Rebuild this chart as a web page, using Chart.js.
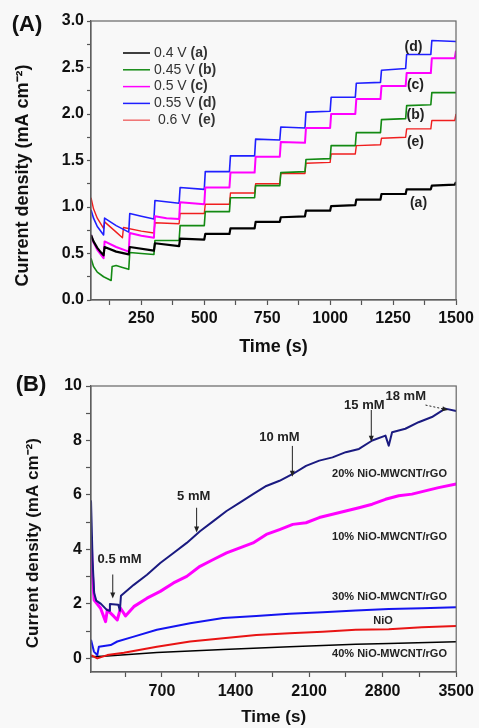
<!DOCTYPE html>
<html>
<head>
<meta charset="utf-8">
<script src="https://cdn.jsdelivr.net/npm/chart.js@4.4.1/dist/chart.umd.min.js"></script>
<style>
  body { margin: 0; background: #f8f8f8; }
  .panel { position: absolute; left: 0; width: 479px; }
  #wrapA { top: 0; height: 360px; }
  #wrapB { top: 360px; height: 368px; }
</style>
</head>
<body>
<div class="panel" id="wrapA"><canvas id="chartA"></canvas></div>
<div class="panel" id="wrapB"><canvas id="chartB"></canvas></div>
<script>
const FONT = "'Liberation Sans', Arial, sans-serif";

// ---- (A) 不同电位下的阶跃响应 [时间 s, 电流密度 mA cm-2]
const voltagesA = ['0.4 V', '0.45 V', '0.5 V', '0.55 V', ' 0.6 V '];
const tagsA = ['(a)', '(b)', '(c)', '(d)', '(e)'];
const curveA_a = [[50,0.70],[60,0.63],[75,0.56],[90,0.51],[100,0.48],[104,0.57],[150,0.52],[200,0.49],[204,0.57],[300,0.53],
  [304,0.61],[400,0.58],[404,0.66],[500,0.65],[504,0.71],[600,0.71],[604,0.77],[700,0.77],[704,0.84],[800,0.84],
  [804,0.89],[900,0.90],[904,0.96],[1000,0.96],[1004,1.01],[1100,1.02],[1104,1.08],[1200,1.08],[1204,1.14],[1300,1.14],
  [1304,1.19],[1400,1.19],[1404,1.23],[1495,1.24],[1500,1.27]];
const curveA_b = [[50,0.45],[60,0.36],[75,0.30],[100,0.25],[130,0.21],[134,0.36],[150,0.37],[175,0.35],[200,0.33],[204,0.51],
  [250,0.50],[300,0.49],[304,0.64],[400,0.64],[404,0.80],[500,0.80],[504,0.95],[600,0.95],[604,1.10],[700,1.10],
  [704,1.23],[800,1.23],[804,1.37],[900,1.38],[904,1.51],[1000,1.52],[1004,1.66],[1100,1.66],[1104,1.80],[1200,1.80],
  [1204,1.94],[1300,1.95],[1304,2.09],[1400,2.10],[1404,2.23],[1500,2.23]];
const curveA_c = [[50,0.70],[60,0.62],[75,0.54],[100,0.45],[104,0.63],[150,0.57],[200,0.52],[204,0.72],[250,0.69],[300,0.67],
  [304,0.90],[350,0.88],[400,0.87],[404,1.05],[500,1.03],[504,1.21],[600,1.21],[604,1.37],[700,1.37],[704,1.54],
  [800,1.54],[804,1.70],[900,1.69],[904,1.85],[1000,1.85],[1004,2.00],[1100,2.00],[1104,2.16],[1200,2.16],[1204,2.30],
  [1300,2.30],[1304,2.44],[1400,2.44],[1404,2.60],[1495,2.60],[1500,2.68]];
const curveA_d = [[50,0.97],[60,0.88],[75,0.79],[100,0.70],[104,0.88],[150,0.80],[200,0.73],[204,0.93],[250,0.90],[300,0.87],
  [304,1.07],[400,1.04],[404,1.21],[500,1.19],[504,1.38],[600,1.38],[604,1.55],[700,1.55],[704,1.73],[800,1.72],
  [804,1.86],[900,1.85],[904,2.02],[1000,2.03],[1004,2.18],[1100,2.18],[1104,2.33],[1200,2.34],[1204,2.47],[1300,2.49],
  [1304,2.64],[1400,2.64],[1404,2.79],[1500,2.78]];
const curveA_e = [[50,1.10],[60,0.98],[75,0.88],[100,0.77],[104,0.84],[150,0.73],[175,0.67],[179,0.78],[250,0.74],[300,0.72],
  [304,0.83],[400,0.82],[404,0.93],[500,0.93],[504,1.03],[600,1.03],[604,1.15],[700,1.15],[704,1.25],[800,1.25],
  [804,1.36],[900,1.36],[904,1.47],[1000,1.48],[1004,1.57],[1100,1.57],[1104,1.66],[1200,1.67],[1204,1.74],[1300,1.75],
  [1304,1.84],[1400,1.84],[1404,1.93],[1495,1.93],[1500,2.00]];
const tagPosA = [[1351,1.04],[1339,1.99],[1339,2.31],[1331,2.72],[1339,1.70]];
const xTicksA = [125,250,375,500,625,750,875,1000,1125,1250,1375,1500];
const xLabelsA = [250,500,750,1000,1250,1500];
const yTicksA = [0,0.25,0.5,0.75,1,1.25,1.5,1.75,2,2.25,2.5,2.75,3];
const yLabelsA = [0,0.5,1,1.5,2,2.5,3];

// ---- (B) 不同复合比例的电流响应
const namesB = ['20% NiO-MWCNT/rGO', '10% NiO-MWCNT/rGO', '30% NiO-MWCNT/rGO', 'NiO', '40% NiO-MWCNT/rGO'];
const curveB_20 = [[25,5.8],[40,3.6],[55,2.4],[75,2.12],[120,2.0],[175,1.78],[200,1.75],[205,2.0],[285,1.97],[300,1.75],
  [310,2.3],[432,2.7],[558,3.07],[684,3.5],[810,3.87],[936,4.24],[1062,4.67],[1189,5.04],[1315,5.41],[1441,5.72],
  [1567,6.03],[1693,6.33],[1819,6.52],[1945,6.77],[2071,7.07],[2197,7.26],[2323,7.38],[2449,7.57],[2575,7.69],[2701,8.0],
  [2827,8.18],[2858,7.81],[2890,8.3],[3016,8.43],[3142,8.67],[3269,8.86],[3395,9.17],[3500,9.08]];
const curveB_10 = [[25,4.5],[40,3.0],[55,2.14],[116,1.84],[164,1.35],[180,1.78],[243,1.54],[275,1.41],[306,1.84],[353,1.56],
  [432,1.9],[558,2.21],[684,2.46],[810,2.77],[936,3.01],[1062,3.38],[1189,3.63],[1315,3.87],[1441,4.06],[1567,4.24],
  [1693,4.55],[1819,4.73],[1945,4.92],[2071,4.98],[2197,5.17],[2323,5.29],[2449,5.41],[2575,5.53],[2701,5.66],[2827,5.84],
  [2953,5.97],[3079,6.03],[3205,6.15],[3332,6.27],[3500,6.4]];
const curveB_30 = [[25,0.68],[53,0.25],[85,0.12],[100,0.43],[212,0.49],[275,0.62],[432,0.8],[652,1.05],[968,1.29],[1283,1.48],
  [1598,1.56],[1914,1.64],[2229,1.69],[2544,1.76],[2858,1.81],[3174,1.84],[3500,1.88]];
const curveB_NiO = [[25,0.12],[85,0.0],[180,0.12],[338,0.21],[652,0.43],[968,0.62],[1283,0.74],[1598,0.86],[1914,0.92],[2229,0.98],
  [2544,1.05],[2858,1.07],[3174,1.14],[3500,1.19]];
const curveB_40 = [[25,0.06],[180,0.09],[652,0.22],[1283,0.33],[1914,0.43],[2544,0.52],[2858,0.55],[3500,0.61]];
const namePosB = [[3412,6.78],[3412,4.47],[3412,2.27],[2804,1.39],[3412,0.18]];
const notesB = [['0.5 mM',297,3.63],['5 mM',1002,5.93],['10 mM',1818,8.13],['15 mM',2626,9.3],['18 mM',3020,9.63]];
const arrowsB = [[232,3.08,232,2.2],[1030,5.53,1030,4.62],[1941,7.8,1941,6.67],[2692,9.12,2692,7.95]];
const dashArrowB = [3208,9.3,3424,9.12];
const xTicksB = [350,700,1050,1400,1750,2100,2450,2800,3150,3500];
const xLabelsB = [700,1400,2100,2800,3500];
const yTicksB = [0,1,2,3,4,5,6,7,8,9,10];
const yLabelsB = [0,2,4,6,8,10];

const toXY = pts => pts.map(([x, y]) => ({x, y}));

function line(pts, color, width) {
  return { data: toXY(pts), borderColor: color, borderWidth: width, pointRadius: 0, tension: 0, borderJoinStyle: 'round' };
}

function axis(min, max, ticks, labels, titleText, opts) {
  return {
    type: 'linear', min, max,
    afterBuildTicks: s => { s.ticks = ticks.map(v => ({value: v})); },
    afterFit: s => { if (opts.width) s.width = opts.width; if (opts.height) s.height = opts.height; },
    ticks: {
      autoSkip: false, maxRotation: 0, padding: opts.pad, color: '#111',
      font: {family: FONT, size: opts.tickSize, weight: 'bold'},
      callback: v => labels.includes(v) ? String(v === 0 ? (opts.zero || '0') : (opts.fix ? v.toFixed(1) : v)) : ''
    },
    grid: { drawOnChartArea: false, drawTicks: true, tickLength: opts.tickLen, tickColor: '#555', tickWidth: 1.2 },
    border: { display: true, color: '#555', width: 1.2 },
    title: { display: true, text: titleText, color: '#111', font: {family: FONT, size: opts.titleSize, weight: 'bold'}, padding: opts.titlePad }
  };
}

const decor = {
  id: 'decor',
  afterDraw(chart, args, o) {
    const ctx = chart.ctx, a = chart.chartArea;
    ctx.save();
    ctx.strokeStyle = '#666';
    ctx.lineWidth = 1.2;
    ctx.strokeRect(a.left, a.top, a.right - a.left, a.bottom - a.top);
    ctx.fillStyle = '#111';
    ctx.font = 'bold 22px ' + FONT;
    ctx.textAlign = 'center';
    ctx.textBaseline = 'middle';
    ctx.fillText(o.letter, o.letterX, o.letterY);
    o.draw(chart, ctx);
    ctx.restore();
  }
};

function drawA(chart, ctx) {
  const xs = chart.scales.x, ys = chart.scales.y;
  // 图例
  const colors = chart.data.datasets.map(d => d.borderColor);
  colors[4] = '#f07070';
  voltagesA.forEach((v, i) => {
    const y = 53 + i * 16.8;
    ctx.strokeStyle = colors[i];
    ctx.lineWidth = 1.5;
    ctx.beginPath(); ctx.moveTo(123, y); ctx.lineTo(150, y); ctx.stroke();
    ctx.textAlign = 'left';
    ctx.fillStyle = '#333';
    ctx.font = '14px ' + FONT;
    ctx.fillText(v + ' ', 154, y);
    const w = ctx.measureText(v + ' ').width;
    ctx.font = 'bold 14px ' + FONT;
    ctx.fillText(tagsA[i], 154 + w, y);
  });
  // 曲线标记
  ctx.textAlign = 'center';
  ctx.fillStyle = '#222';
  ctx.font = 'bold 14px ' + FONT;
  tagsA.forEach((t, i) => {
    ctx.fillText(t, xs.getPixelForValue(tagPosA[i][0]), ys.getPixelForValue(tagPosA[i][1]));
  });
}

function arrow(ctx, x0, y0, x1, y1, dashed) {
  const ang = Math.atan2(y1 - y0, x1 - x0);
  ctx.strokeStyle = '#222';
  ctx.fillStyle = '#222';
  ctx.lineWidth = 1;
  ctx.setLineDash(dashed ? [2, 2] : []);
  ctx.beginPath(); ctx.moveTo(x0, y0); ctx.lineTo(x1 - 4 * Math.cos(ang), y1 - 4 * Math.sin(ang)); ctx.stroke();
  ctx.setLineDash([]);
  ctx.beginPath();
  ctx.moveTo(x1, y1);
  ctx.lineTo(x1 - 6 * Math.cos(ang) + 2.5 * Math.sin(ang), y1 - 6 * Math.sin(ang) - 2.5 * Math.cos(ang));
  ctx.lineTo(x1 - 6 * Math.cos(ang) - 2.5 * Math.sin(ang), y1 - 6 * Math.sin(ang) + 2.5 * Math.cos(ang));
  ctx.closePath(); ctx.fill();
}

function drawB(chart, ctx) {
  const xs = chart.scales.x, ys = chart.scales.y;
  const px = v => xs.getPixelForValue(v), py = v => ys.getPixelForValue(v);
  ctx.fillStyle = '#222';
  ctx.font = 'bold 13px ' + FONT;
  ctx.textAlign = 'center';
  notesB.forEach(([t, x, y]) => ctx.fillText(t, px(x), py(y)));
  arrowsB.forEach(([x0, y0, x1, y1]) => arrow(ctx, px(x0), py(y0), px(x1), py(y1), false));
  arrow(ctx, px(dashArrowB[0]), py(dashArrowB[1]), px(dashArrowB[2]), py(dashArrowB[3]), true);
  ctx.font = 'bold 11px ' + FONT;
  ctx.fillStyle = '#222';
  namesB.forEach((n, i) => {
    ctx.textAlign = n === 'NiO' ? 'center' : 'right';
    ctx.fillText(n, px(namePosB[i][0]), py(namePosB[i][1]));
  });
}

Chart.defaults.animation = false;
Chart.defaults.maintainAspectRatio = false;
Chart.defaults.plugins.legend.display = false;
Chart.defaults.plugins.tooltip.enabled = false;

new Chart(document.getElementById('chartA'), {
  type: 'line',
  data: {
    datasets: [
      line(curveA_a, '#000000', 2.2),
      line(curveA_b, '#138a13', 1.6),
      line(curveA_c, '#ff00ff', 2),
      line(curveA_d, '#1f1fff', 1.6),
      line(curveA_e, '#f01e1e', 1.4)
    ]
  },
  options: {
    layout: { padding: { left: 0, right: 23, top: 21, bottom: 0 } },
    scales: {
      x: axis(50, 1500, xTicksA, xLabelsA, 'Time (s)',
        { height: 60, tickLen: 5, pad: 4, tickSize: 16, titleSize: 18, titlePad: {top: 0, bottom: 2} }),
      y: axis(0, 3, yTicksA, yLabelsA, 'Current density (mA cm\u207B\u00B2)      ',
        { width: 91, tickLen: 4, pad: 3, tickSize: 16, titleSize: 18, titlePad: {top: 12, bottom: 0}, fix: true, zero: '0.0' })
    },
    plugins: { decor: { letter: '(A)', letterX: 27, letterY: 25, draw: drawA } }
  },
  plugins: [decor]
});

new Chart(document.getElementById('chartB'), {
  type: 'line',
  data: {
    datasets: [
      line(curveB_20, '#1a1a80', 2),
      line(curveB_10, '#ff00ff', 3),
      line(curveB_30, '#1414f0', 2),
      line(curveB_NiO, '#e81414', 2),
      line(curveB_40, '#000000', 1.5)
    ]
  },
  options: {
    layout: { padding: { left: 0, right: 18, top: 26, bottom: 0 } },
    scales: {
      x: axis(25, 3500, xTicksB, xLabelsB, 'Time (s)',
        { height: 56, tickLen: 5, pad: 5, tickSize: 16, titleSize: 17, titlePad: {top: 0, bottom: 0} }),
      y: axis(-0.5, 10, yTicksB, yLabelsB, 'Current density (mA cm\u207B\u00B2)      ',
        { width: 91, tickLen: 5, pad: 4, tickSize: 16, titleSize: 17, titlePad: {top: 23, bottom: 0} })
    },
    plugins: { decor: { letter: '(B)', letterX: 31, letterY: 25, draw: drawB } }
  },
  plugins: [decor]
});
</script>
</body>
</html>
